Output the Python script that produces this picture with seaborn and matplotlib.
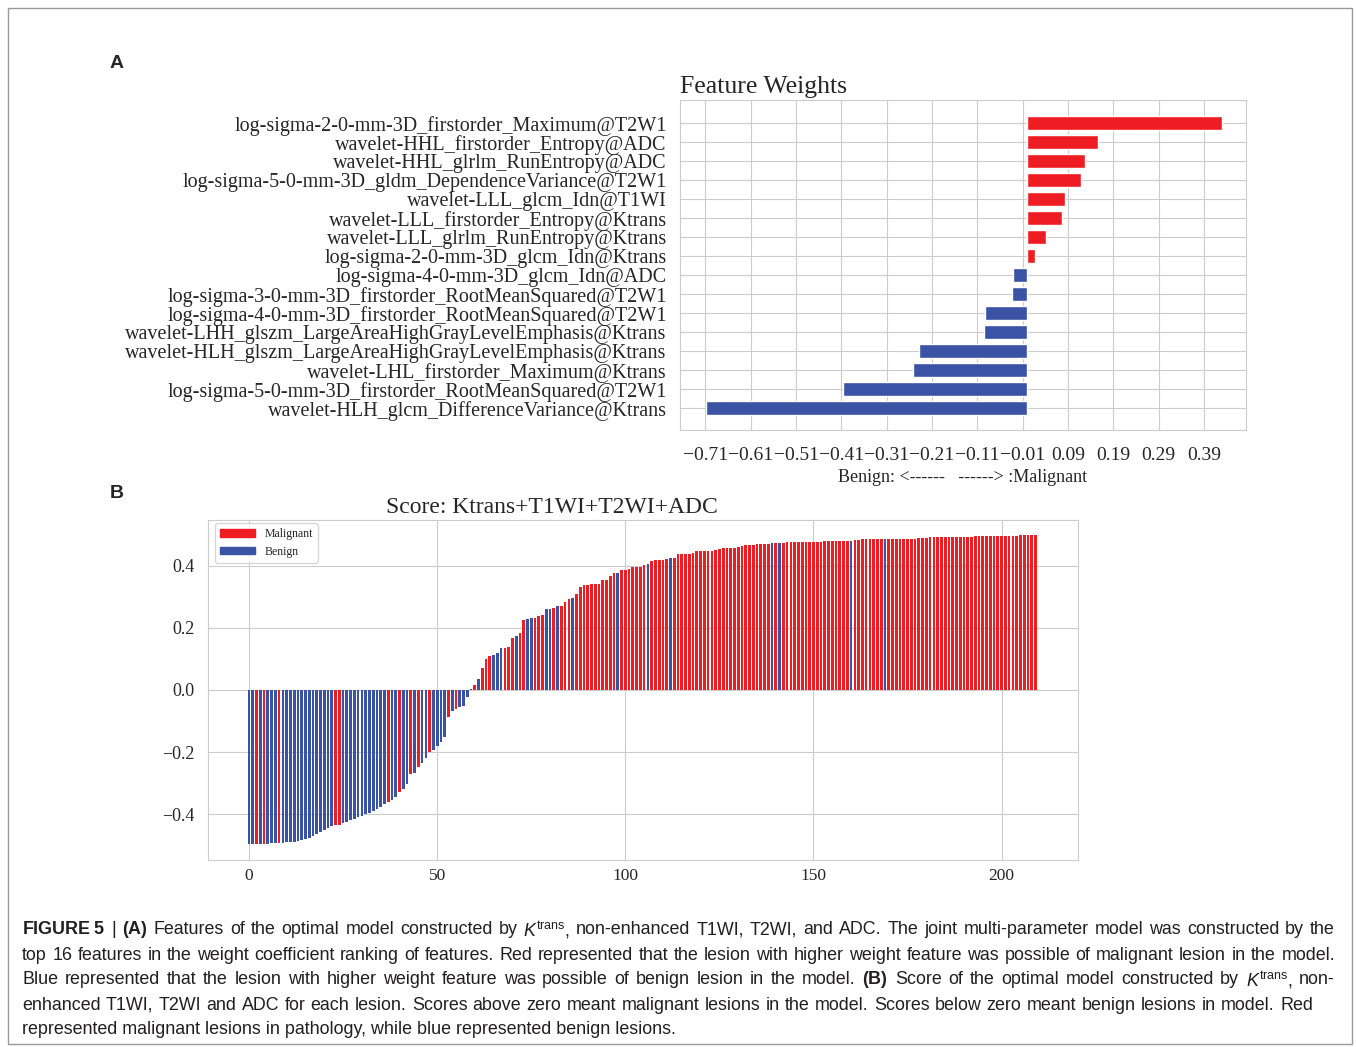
import numpy as np
import pandas as pd
import seaborn as sns
import matplotlib.pyplot as plt
from matplotlib.patches import Patch, Rectangle

RED  = "#EE1D24"
BLUE = "#3A53A4"

# --- panel A: feature weights (top -> bottom) ---
FEATURES = [
    "log-sigma-2-0-mm-3D_firstorder_Maximum@T2W1",
    "wavelet-HHL_firstorder_Entropy@ADC",
    "wavelet-HHL_glrlm_RunEntropy@ADC",
    "log-sigma-5-0-mm-3D_gldm_DependenceVariance@T2W1",
    "wavelet-LLL_glcm_Idn@T1WI",
    "wavelet-LLL_firstorder_Entropy@Ktrans",
    "wavelet-LLL_glrlm_RunEntropy@Ktrans",
    "log-sigma-2-0-mm-3D_glcm_Idn@Ktrans",
    "log-sigma-4-0-mm-3D_glcm_Idn@ADC",
    "log-sigma-3-0-mm-3D_firstorder_RootMeanSquared@T2W1",
    "log-sigma-4-0-mm-3D_firstorder_RootMeanSquared@T2W1",
    "wavelet-LHH_glszm_LargeAreaHighGrayLevelEmphasis@Ktrans",
    "wavelet-HLH_glszm_LargeAreaHighGrayLevelEmphasis@Ktrans",
    "wavelet-LHL_firstorder_Maximum@Ktrans",
    "log-sigma-5-0-mm-3D_firstorder_RootMeanSquared@T2W1",
    "wavelet-HLH_glcm_DifferenceVariance@Ktrans",
]
WEIGHTS = [0.430, 0.157, 0.127, 0.119, 0.084, 0.076, 0.042, 0.017,
           -0.031, -0.034, -0.093, -0.096, -0.239, -0.251, -0.407, -0.708]
WEIGHT_TICKS = [-0.71, -0.61, -0.51, -0.41, -0.31, -0.21, -0.11, -0.01,
                0.09, 0.19, 0.29, 0.39]

# --- panel B: sorted score per lesion, and pathology (1 = malignant) ---
SCORES = [
    -0.497, -0.497, -0.496, -0.496, -0.495, -0.495, -0.494, -0.494, -0.493, -0.492,
    -0.491, -0.490, -0.489, -0.487, -0.484, -0.480, -0.476, -0.470, -0.464, -0.458,
    -0.451, -0.445, -0.439, -0.436, -0.434, -0.430, -0.425, -0.420, -0.415, -0.410,
    -0.405, -0.400, -0.395, -0.390, -0.385, -0.376, -0.366, -0.360, -0.355, -0.344,
    -0.330, -0.319, -0.304, -0.270, -0.266, -0.248, -0.235, -0.220, -0.200, -0.192,
    -0.182, -0.168, -0.150, -0.086, -0.068, -0.060, -0.054, -0.050, -0.022, 0.004,
    0.016, 0.037, 0.072, 0.101, 0.108, 0.112, 0.119, 0.134, 0.134, 0.140,
    0.169, 0.174, 0.183, 0.226, 0.229, 0.231, 0.233, 0.237, 0.242, 0.261,
    0.261, 0.264, 0.271, 0.272, 0.285, 0.294, 0.296, 0.310, 0.333, 0.337,
    0.339, 0.341, 0.343, 0.343, 0.353, 0.354, 0.369, 0.376, 0.376, 0.387,
    0.388, 0.390, 0.395, 0.396, 0.396, 0.402, 0.406, 0.417, 0.420, 0.420,
    0.420, 0.421, 0.424, 0.426, 0.437, 0.439, 0.440, 0.440, 0.441, 0.447,
    0.449, 0.449, 0.449, 0.449, 0.452, 0.455, 0.457, 0.458, 0.458, 0.458,
    0.460, 0.463, 0.467, 0.469, 0.469, 0.471, 0.471, 0.471, 0.471, 0.473,
    0.473, 0.474, 0.474, 0.476, 0.477, 0.477, 0.477, 0.477, 0.477, 0.477,
    0.477, 0.477, 0.477, 0.480, 0.480, 0.480, 0.480, 0.480, 0.480, 0.480,
    0.481, 0.484, 0.484, 0.486, 0.486, 0.486, 0.486, 0.486, 0.486, 0.486,
    0.486, 0.488, 0.488, 0.488, 0.488, 0.488, 0.488, 0.488, 0.490, 0.490,
    0.490, 0.492, 0.492, 0.492, 0.492, 0.492, 0.492, 0.494, 0.494, 0.494,
    0.494, 0.494, 0.494, 0.497, 0.497, 0.497, 0.497, 0.497, 0.497, 0.497,
    0.497, 0.497, 0.497, 0.497, 0.497, 0.499, 0.499, 0.499, 0.499, 0.499,
]
MALIGNANT = [
    0, 0, 1, 0, 1, 0, 0, 0, 1, 0,  0, 0, 0, 0, 0, 0, 0, 0, 0, 0,  0, 0, 0, 1, 1, 0, 0, 0, 0, 0,
    0, 0, 0, 0, 0, 0, 0, 1, 0, 0,  1, 0, 0, 1, 0, 1, 0, 0, 1, 0,  0, 0, 0, 1, 0, 1, 0, 0, 0, 0,
    1, 0, 1, 1, 1, 0, 0, 0, 1, 1,  1, 0, 1, 1, 0, 0, 1, 1, 1, 0,  0, 1, 0, 1, 1, 1, 0, 1, 1, 1,
    1, 1, 1, 1, 1, 1, 1, 1, 0, 1,  1, 1, 1, 1, 1, 1, 0, 1, 1, 1,  1, 1, 0, 1, 1, 1, 1, 1, 1, 1,
    1, 1, 1, 1, 1, 1, 1, 1, 1, 1,  1, 1, 1, 1, 1, 1, 1, 1, 1, 0,  1, 0, 1, 1, 1, 1, 1, 1, 1, 1,
    1, 1, 1, 1, 1, 1, 1, 1, 1, 1,  0, 1, 1, 1, 1, 1, 1, 1, 1, 0,  1, 1, 1, 1, 1, 1, 1, 1, 1, 1,
    1, 1, 1, 1, 1, 1, 1, 1, 1, 1,  1, 1, 1, 1, 1, 1, 1, 1, 1, 1,  1, 1, 1, 1, 1, 1, 1, 1, 1, 1,
]
SCORE_XTICKS = [0, 50, 100, 150, 200]
SCORE_YTICKS = [-0.4, -0.2, 0.0, 0.2, 0.4]

CAPTION = [
    r"$\mathbf{FIGURE\;5}$ | $\mathbf{(A)}$ Features of the optimal model constructed by $K^{\mathrm{trans}}$, "
    r"non-enhanced T1WI, T2WI, and ADC. The joint multi-parameter model was constructed by the",
    "top 16 features in the weight coefficient ranking of features. Red represented that the lesion "
    "with higher weight feature was possible of malignant lesion in the model.",
    r"Blue represented that the lesion with higher weight feature was possible of benign lesion in the "
    r"model. $\mathbf{(B)}$ Score of the optimal model constructed by $K^{\mathrm{trans}}$, non-",
    "enhanced T1WI, T2WI and ADC for each lesion. Scores above zero meant malignant lesions in the "
    "model. Scores below zero meant benign lesions in model. Red",
    "represented malignant lesions in pathology, while blue represented benign lesions.",
]
CAPTION_RIGHT = [1335, 1335, 1335, 1313, None]   # justified line ends (px), None = ragged

sns.set_style("whitegrid")
plt.rcParams["font.family"] = ["Liberation Serif", "DejaVu Serif"]
plt.rcParams["mathtext.fontset"] = "custom"
plt.rcParams["mathtext.rm"] = "Liberation Sans"
plt.rcParams["mathtext.it"] = "Liberation Sans:italic"
plt.rcParams["mathtext.bf"] = "Liberation Sans:bold"

W, H = 1356, 1047
fig = plt.figure(figsize=(W / 100, H / 100), dpi=100)
pal = {"Malignant": RED, "Benign": BLUE}

def fmt(v, nd):
    return f"{v:.{nd}f}".replace("-", "\u2212")

# ---------- A ----------
axA = fig.add_axes([680 / W, 1 - 430 / H, 566 / W, 330 / H])
dfA = pd.DataFrame({"feature": FEATURES, "weight": WEIGHTS})
dfA["side"] = np.where(dfA["weight"] > 0, "Malignant", "Benign")
sns.barplot(data=dfA, x="weight", y="feature", hue="side", palette=pal, saturation=1,
            dodge=False, orient="h", width=0.74, legend=False, ax=axA)
axA.set_xlim(-0.766, 0.483)
axA.set_ylim(16.14, -1.23)
axA.set_xticks(WEIGHT_TICKS)
axA.set_xticklabels([fmt(t, 2) for t in WEIGHT_TICKS])
axA.xaxis.grid(True)
axA.yaxis.grid(True)
axA.set_title("Feature Weights", loc="left", fontsize=18.5, pad=5)
axA.set_xlabel("Benign: <------   ------> :Malignant", fontsize=13, labelpad=3)
axA.set_ylabel("")
axA.tick_params(axis="y", labelsize=14.5, pad=6)
axA.tick_params(axis="x", labelsize=14, pad=9)

# ---------- B ----------
axB = fig.add_axes([208 / W, 1 - 860 / H, 870 / W, 340 / H])
dfB = pd.DataFrame({"lesion": np.arange(len(SCORES)), "score": SCORES,
                    "pathology": ["Malignant" if m else "Benign" for m in MALIGNANT]})
sns.barplot(data=dfB, x="lesion", y="score", hue="pathology", palette=pal, saturation=1,
            dodge=False, native_scale=True, width=0.72, linewidth=0, legend=False, ax=axB)
axB.set_xlim(-10.9, 220.3)
axB.set_ylim(-0.548, 0.548)
axB.set_xticks(SCORE_XTICKS)
axB.set_xticklabels([str(t) for t in SCORE_XTICKS])
axB.set_yticks(SCORE_YTICKS)
axB.set_yticklabels([fmt(t, 1) for t in SCORE_YTICKS])
axB.xaxis.grid(True)
axB.yaxis.grid(True)
axB.set_axisbelow(True)
axB.set_xlabel("")
axB.set_ylabel("")
axB.tick_params(axis="x", labelsize=12.5, pad=2)
axB.tick_params(axis="y", labelsize=13, pad=6)
axB.set_title("Score: Ktrans+T1WI+T2WI+ADC", fontsize=17, x=0.395, pad=5)
axB.legend(handles=[Patch(color=RED, label="Malignant"), Patch(color=BLUE, label="Benign")],
           loc="upper left", bbox_to_anchor=(0.008, 0.99), fontsize=8.5,
           handlelength=3, handleheight=0.55, frameon=True, borderaxespad=0)

# panel letters, caption, frame
fig.text(117 / W, 1 - 64 / H, "A", fontsize=14, fontweight="bold", family="Liberation Sans",
         ha="center", va="center")
fig.text(117 / W, 1 - 493 / H, "B", fontsize=14, fontweight="bold", family="Liberation Sans",
         ha="center", va="center")

renderer = fig.canvas.get_renderer()
cap_kw = dict(fontsize=12.9, family="Liberation Sans", color="#231F20", ha="left", va="center")
for i, (line, right) in enumerate(zip(CAPTION, CAPTION_RIGHT)):
    y = 1 - (930 + 25 * i) / H
    if right is None:
        fig.text(22 / W, y, line, **cap_kw)
        continue
    words = line.split(" ")
    texts = [fig.text(0, y, w, **cap_kw) for w in words]
    widths = [t.get_window_extent(renderer).width for t in texts]
    gap = (right - 22 - sum(widths)) / (len(words) - 1)
    x = 22.0
    for t, w in zip(texts, widths):
        t.set_x(x / W)
        x += w + gap

fig.add_artist(Rectangle((8 / W, 3 / H), 1344 / W, 1036 / H, transform=fig.transFigure,
                         fill=False, edgecolor="#9a9a9a", lw=1))

fig.savefig("out.png", dpi=100)
